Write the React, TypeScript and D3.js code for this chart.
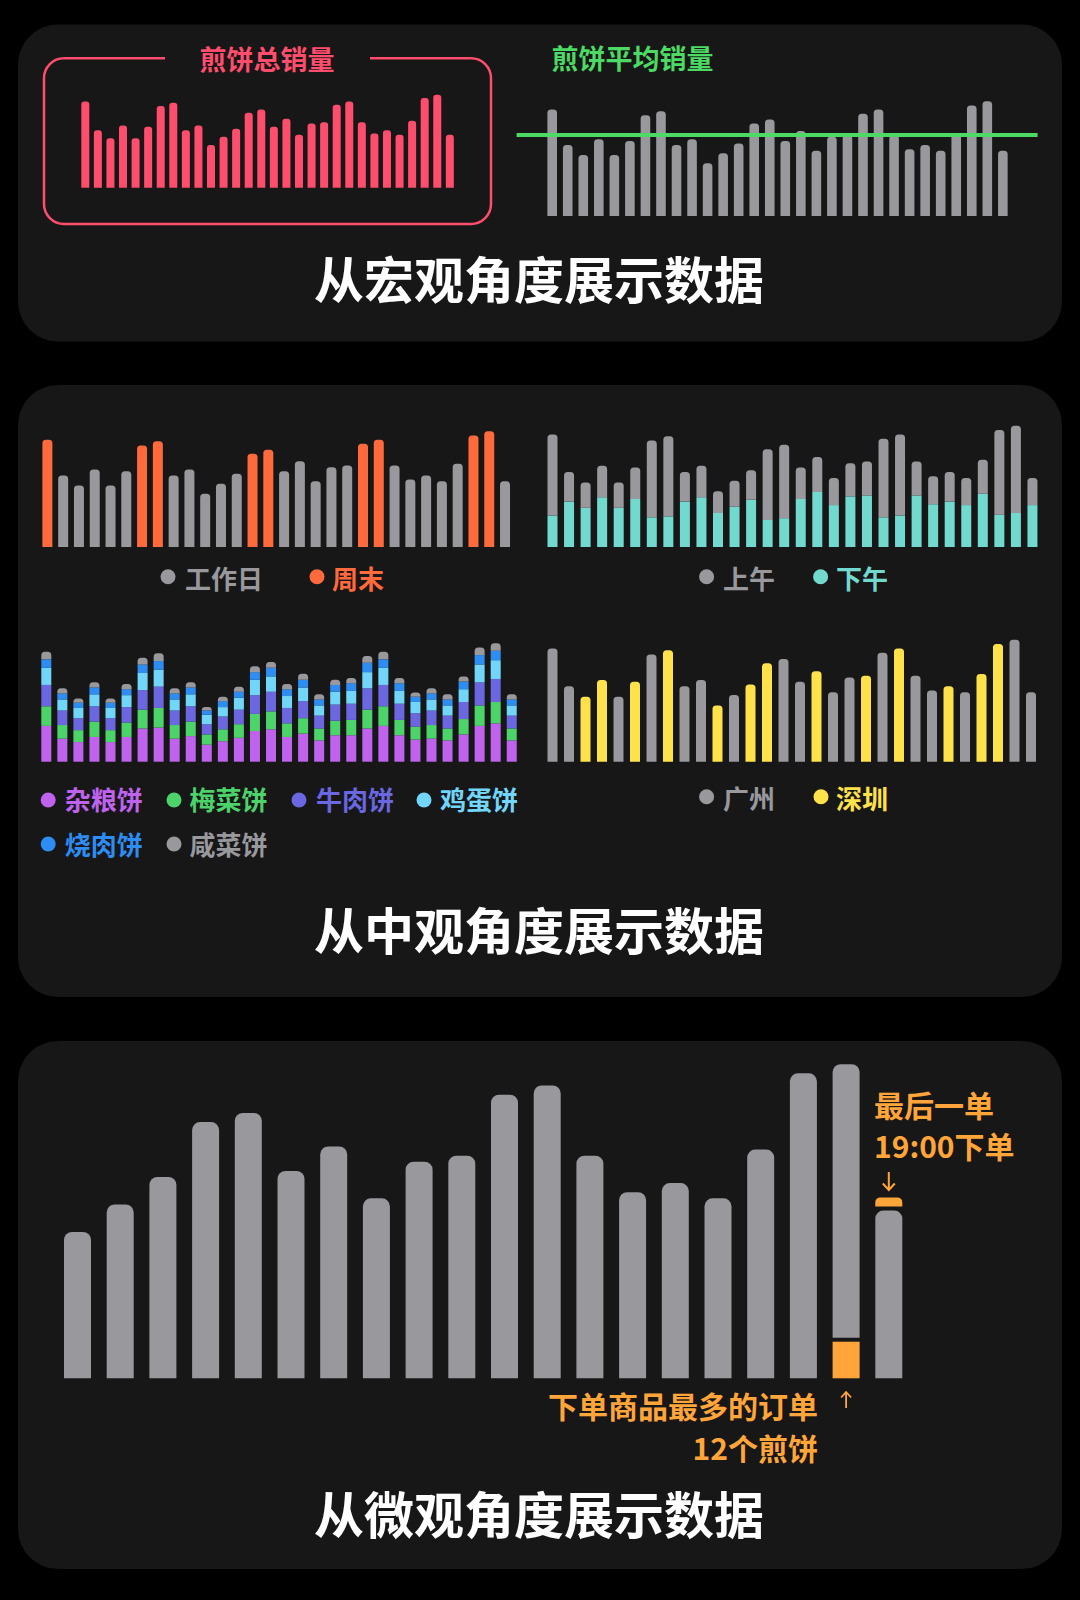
import React from "react";
import * as d3 from "d3";

// ---------- DATA ----------
const days = d3.range(1, 31);
const dailyTotal = [129, 86, 74, 93, 74, 91, 122, 127, 86, 93, 64, 76, 88, 112, 117, 91, 103, 79, 96, 98, 124, 129, 98, 81, 86, 79, 100, 134, 139, 79];
const dayType = ["周末", "工作日", "工作日", "工作日", "工作日", "工作日", "周末", "周末", "工作日", "工作日", "工作日", "工作日", "工作日", "周末", "周末", "工作日", "工作日", "工作日", "工作日", "工作日", "周末", "周末", "工作日", "工作日", "工作日", "工作日", "工作日", "周末", "周末", "工作日"];
const morningSales = [93, 34, 29, 36, 29, 36, 88, 92, 34, 36, 25, 30, 34, 81, 84, 36, 40, 31, 38, 39, 90, 93, 39, 32, 34, 31, 39, 97, 100, 31];
const afternoonSales = [36, 52, 45, 57, 45, 55, 34, 35, 52, 57, 39, 46, 54, 31, 33, 55, 63, 48, 58, 59, 34, 36, 59, 49, 52, 48, 61, 37, 39, 48];
const zaliang = [42, 27, 23, 29, 23, 29, 39, 40, 27, 30, 20, 24, 28, 36, 38, 29, 33, 25, 31, 31, 39, 42, 31, 26, 27, 25, 32, 42, 45, 25];
const meicai = [23, 16, 14, 18, 14, 17, 22, 23, 16, 17, 12, 14, 16, 20, 21, 16, 18, 14, 17, 18, 22, 23, 18, 15, 16, 14, 18, 24, 25, 14];
const niurou = [25, 17, 14, 18, 14, 18, 23, 25, 17, 18, 12, 15, 17, 22, 23, 18, 20, 15, 19, 19, 25, 25, 19, 16, 17, 15, 20, 27, 27, 15];
const jidan = [20, 13, 12, 14, 12, 14, 20, 20, 13, 14, 11, 11, 14, 18, 18, 14, 16, 12, 15, 15, 19, 20, 15, 13, 13, 12, 15, 21, 22, 12];
const shaorou = [10, 7, 6, 8, 6, 7, 10, 10, 7, 8, 5, 7, 7, 9, 10, 8, 9, 7, 8, 9, 11, 10, 9, 6, 7, 7, 9, 11, 11, 7];
const xiancai = [9, 6, 5, 6, 5, 6, 8, 9, 6, 6, 4, 5, 6, 7, 7, 6, 7, 6, 6, 6, 8, 9, 6, 5, 6, 6, 6, 9, 9, 6];
const flavorNames = ["杂粮饼", "梅菜饼", "牛肉饼", "鸡蛋饼", "烧肉饼", "咸菜饼"];
const city = ["广州", "广州", "深圳", "深圳", "广州", "深圳", "广州", "深圳", "广州", "广州", "深圳", "广州", "深圳", "深圳", "广州", "广州", "深圳", "广州", "广州", "深圳", "广州", "深圳", "广州", "广州", "深圳", "广州", "深圳", "深圳", "广州", "广州"];
const slotSales = [48, 57, 66, 84, 87, 68, 76, 59, 71, 73, 93, 96, 73, 61, 64, 59, 75, 100, 103, 58];
const biggestOrder = 12; // in slot 19
const biggestSlot = 18;
const lastOrder = 3; // in slot 20
const lastSlot = 19;

// ---------- STYLE ----------
const FONT = "'Noto Sans CJK SC', 'Noto Sans', sans-serif";
const GRAY = "#98989D";
const RED = "#FF4D6D";
const GREEN = "#4CD964";
const CORAL = "#FF6A3D";
const TEAL = "#72D9CF";
const YELLOW = "#FFE24A";
const ORANGE = "#FFA53A";
const PANEL = "#171717";
const flavorColors = ["#BF63EE", "#4CD36A", "#6A67E0", "#72D6FB", "#2D8DF2", GRAY];

function band(n: number, firstLeft: number, step: number, width: number) {
  return d3
    .scaleBand<number>()
    .domain(d3.range(n))
    .range([firstLeft, firstLeft + (n - 1) * step + width])
    .paddingInner(1 - width / step)
    .paddingOuter(0);
}

function topRounded(x: number, y: number, w: number, h: number, r: number) {
  const rr = Math.max(0, Math.min(r, w / 2, h));
  return `M${x},${y + h}V${y + rr}A${rr},${rr} 0 0 1 ${x + rr},${y}H${x + w - rr}A${rr},${rr} 0 0 1 ${x + w},${y + rr}V${y + h}Z`;
}

const maxDaily = d3.max(dailyTotal) as number;

function Legend({ items, y, baseline }: { items: { label: string; color: string; dx: number; tx: number }[]; y: number; baseline: number }) {
  return (
    <g>
      {items.map((it) => (
        <g key={it.label}>
          <circle cx={it.dx} cy={y} r={7.5} fill={it.color} />
          <text x={it.tx} y={baseline} fill={it.color} fontSize={26} fontWeight={700} fontFamily={FONT}>
            {it.label}
          </text>
        </g>
      ))}
    </g>
  );
}

function BigTitle({ text, y }: { text: string; y: number }) {
  return (
    <text x={539} y={y} textAnchor="middle" fill="#FFFFFF" fontSize={50} fontWeight={700} fontFamily={FONT}>
      {text}
    </text>
  );
}

export default function App() {
  // Panel 1 left: total sales
  const xA = band(30, 81.3, 12.57, 8);
  const yA = d3.scaleLinear().domain([0, maxDaily]).range([187.7, 187.7 - maxDaily * 0.669]);
  // Panel 1 right: average
  const xB = band(30, 547.4, 15.54, 9.6);
  const yB = d3.scaleLinear().domain([0, maxDaily]).range([216, 216 - maxDaily * 0.825]);
  const avg = d3.mean(dailyTotal) as number;
  // Panel 2
  const xC = band(30, 42.4, 15.78, 10);
  const yC = d3.scaleLinear().domain([0, maxDaily]).range([547, 547 - maxDaily * 0.832]);
  const xD = band(30, 547.5, 16.55, 10);
  const yD = d3.scaleLinear().domain([0, maxDaily]).range([547, 547 - maxDaily * 0.873]);
  const xE = band(30, 41.3, 16.05, 10);
  const yE = d3.scaleLinear().domain([0, maxDaily]).range([761.7, 761.7 - maxDaily * 0.853]);
  const xF = band(30, 547.5, 16.5, 10);
  const yF = d3.scaleLinear().domain([0, maxDaily]).range([761.7, 761.7 - maxDaily * 0.878]);
  // Panel 3
  const xG = band(20, 64, 42.7, 27);
  const yG = d3.scaleLinear().domain([0, 100]).range([1378.3, 1378.3 - 305]);

  const flavorSeries = [zaliang, meicai, niurou, jidan, shaorou, xiancai];
  const stackData = days.map((_, i) => {
    const o: any = { i };
    flavorNames.forEach((n, k) => (o[n] = flavorSeries[k][i]));
    return o;
  });
  const stacked = d3.stack<any>().keys(flavorNames)(stackData);

  const gap = 4;

  return (
    <svg width={1080} height={1600} style={{ position: "absolute", left: 0, top: 0, display: "block" }}>
      <rect x={0} y={0} width={1080} height={1600} fill="#000" />

      {/* ---------- Panel 1 ---------- */}
      <rect x={18} y={24.5} width={1044} height={317} rx={40} fill={PANEL} />
      <path
        d={`M165,58.3H64A20,20 0 0 0 44,78.3V204A20,20 0 0 0 64,224H471A20,20 0 0 0 491,204V78.3A20,20 0 0 0 471,58.3H370`}
        fill="none"
        stroke={RED}
        strokeWidth={2.5}
      />
      <text x={267} y={70} textAnchor="middle" fill={RED} fontSize={27} fontWeight={700} fontFamily={FONT}>
        煎饼总销量
      </text>
      {dailyTotal.map((v, i) => (
        <path key={"a" + i} d={topRounded(xA(i)!, yA(v), xA.bandwidth(), yA(0) - yA(v), 3)} fill={RED} />
      ))}

      <text x={551.5} y={69} fill={GREEN} fontSize={27} fontWeight={700} fontFamily={FONT}>
        煎饼平均销量
      </text>
      {dailyTotal.map((v, i) => (
        <path key={"b" + i} d={topRounded(xB(i)!, yB(v), xB.bandwidth(), yB(0) - yB(v), 3.5)} fill={GRAY} />
      ))}
      <line x1={516.6} x2={1037.6} y1={yB(avg)} y2={yB(avg)} stroke={GREEN} strokeWidth={4} />

      <BigTitle text="从宏观角度展示数据" y={298.5} />

      {/* ---------- Panel 2 ---------- */}
      <rect x={18} y={385} width={1044} height={612} rx={40} fill={PANEL} />

      {dailyTotal.map((v, i) => (
        <path
          key={"c" + i}
          d={topRounded(xC(i)!, yC(v), xC.bandwidth(), yC(0) - yC(v), 3.5)}
          fill={dayType[i] === "周末" ? CORAL : GRAY}
        />
      ))}
      <Legend
        y={576.7}
        baseline={588.5}
        items={[
          { label: "工作日", color: GRAY, dx: 168, tx: 185 },
          { label: "周末", color: CORAL, dx: 317, tx: 332 },
        ]}
      />

      {days.map((_, i) => {
        const a = afternoonSales[i];
        const m = morningSales[i];
        const x = xD(i)!;
        const w = xD.bandwidth();
        return (
          <g key={"d" + i}>
            <rect x={x} y={yD(a)} width={w} height={yD(0) - yD(a)} fill={TEAL} />
            <path d={topRounded(x, yD(a + m), w, yD(a) - yD(a + m), 3.5)} fill={GRAY} />
          </g>
        );
      })}
      <Legend
        y={576.7}
        baseline={588.5}
        items={[
          { label: "上午", color: GRAY, dx: 706.6, tx: 723 },
          { label: "下午", color: TEAL, dx: 820.6, tx: 836 },
        ]}
      />

      {stacked.map((layer, k) => (
        <g key={"e" + k}>
          {layer.map((d, i) => {
            const x = xE(i)!;
            const w = xE.bandwidth();
            const y0 = yE(d[0]);
            const y1 = yE(d[1]);
            return k === stacked.length - 1 ? (
              <path key={i} d={topRounded(x, y1, w, y0 - y1, 3.5)} fill={flavorColors[k]} />
            ) : (
              <rect key={i} x={x} y={y1} width={w} height={y0 - y1} fill={flavorColors[k]} />
            );
          })}
        </g>
      ))}
      <Legend
        y={800}
        baseline={810}
        items={[
          { label: flavorNames[0], color: flavorColors[0], dx: 48.2, tx: 64.7 },
          { label: flavorNames[1], color: flavorColors[1], dx: 174, tx: 189.4 },
          { label: flavorNames[2], color: flavorColors[2], dx: 299, tx: 316 },
          { label: flavorNames[3], color: flavorColors[3], dx: 424, tx: 440 },
        ]}
      />
      <Legend
        y={844}
        baseline={855}
        items={[
          { label: flavorNames[4], color: flavorColors[4], dx: 48.2, tx: 64.7 },
          { label: flavorNames[5], color: flavorColors[5], dx: 174, tx: 189.4 },
        ]}
      />

      {dailyTotal.map((v, i) => (
        <path
          key={"f" + i}
          d={topRounded(xF(i)!, yF(v), xF.bandwidth(), yF(0) - yF(v), 3.5)}
          fill={city[i] === "深圳" ? YELLOW : GRAY}
        />
      ))}
      <Legend
        y={796.7}
        baseline={808.5}
        items={[
          { label: "广州", color: GRAY, dx: 706.6, tx: 723 },
          { label: "深圳", color: YELLOW, dx: 821, tx: 836 },
        ]}
      />

      <BigTitle text="从中观角度展示数据" y={950} />

      {/* ---------- Panel 3 ---------- */}
      <rect x={18} y={1041} width={1044} height={528} rx={40} fill={PANEL} />
      {slotSales.map((v, i) => {
        const x = xG(i)!;
        const w = xG.bandwidth();
        if (i === biggestSlot) {
          return (
            <g key={"g" + i}>
              <path d={topRounded(x, yG(v), w, yG(biggestOrder) - gap - yG(v), 8)} fill={GRAY} />
              <rect x={x} y={yG(biggestOrder)} width={w} height={yG(0) - yG(biggestOrder)} fill={ORANGE} />
            </g>
          );
        }
        if (i === lastSlot) {
          const base = v - lastOrder;
          return (
            <g key={"g" + i}>
              <path d={topRounded(x, yG(base), w, yG(0) - yG(base), 8)} fill={GRAY} />
              <path d={topRounded(x, yG(v) - gap, w, yG(base) - yG(v), 5)} fill={ORANGE} />
            </g>
          );
        }
        return <path key={"g" + i} d={topRounded(x, yG(v), w, yG(0) - yG(v), 8)} fill={GRAY} />;
      })}

      <text x={874} y={1116.5} fill={ORANGE} fontSize={30} fontWeight={700} fontFamily={FONT}>
        最后一单
      </text>
      <text x={874} y={1158} fill={ORANGE} fontSize={30} fontWeight={700} fontFamily={FONT}>
        19:00下单
      </text>
      <path
        d={`M${xG(lastSlot)! + xG.bandwidth() / 2},1172V1190M${xG(lastSlot)! + xG.bandwidth() / 2 - 6},1183.5L${xG(lastSlot)! + xG.bandwidth() / 2},1190L${xG(lastSlot)! + xG.bandwidth() / 2 + 6},1183.5`}
        fill="none"
        stroke={ORANGE}
        strokeWidth={2}
      />
      <path
        d={`M${xG(biggestSlot)! + xG.bandwidth() / 2},1408V1392M${xG(biggestSlot)! + xG.bandwidth() / 2 - 5},1397.5L${xG(biggestSlot)! + xG.bandwidth() / 2},1392L${xG(biggestSlot)! + xG.bandwidth() / 2 + 5},1397.5`}
        fill="none"
        stroke={ORANGE}
        strokeWidth={1.8}
      />
      <text x={818} y={1418} textAnchor="end" fill={ORANGE} fontSize={30} fontWeight={700} fontFamily={FONT}>
        下单商品最多的订单
      </text>
      <text x={818} y={1460} textAnchor="end" fill={ORANGE} fontSize={30} fontWeight={700} fontFamily={FONT}>
        {`${biggestOrder}个煎饼`}
      </text>

      <BigTitle text="从微观角度展示数据" y={1533.5} />
    </svg>
  );
}
